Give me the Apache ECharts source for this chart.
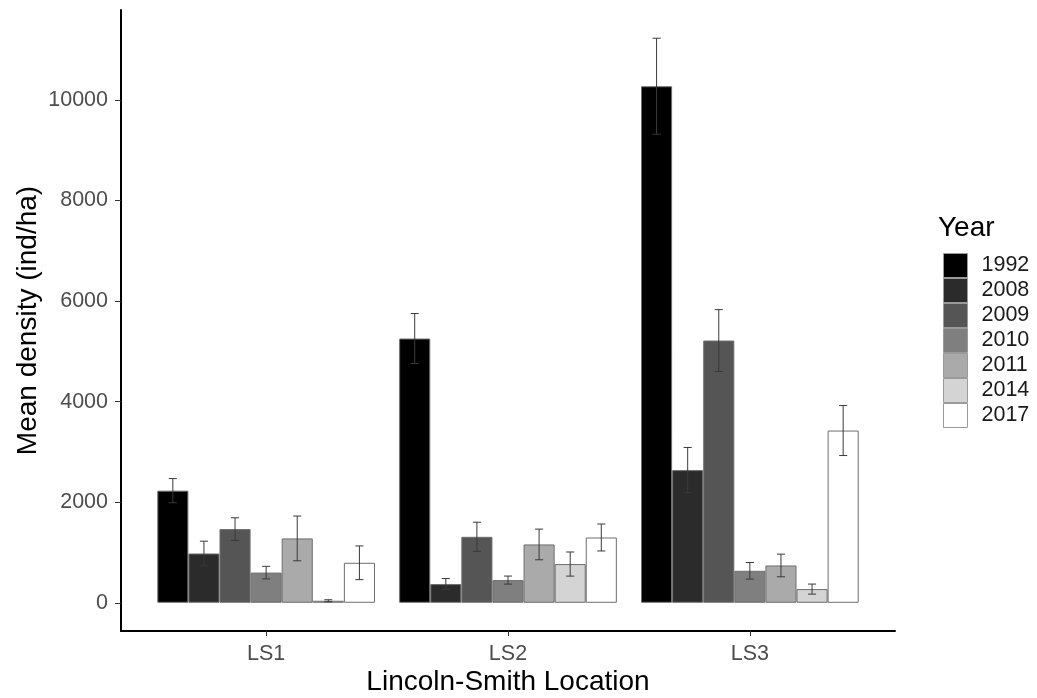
<!DOCTYPE html>
<html>
<head>
<meta charset="utf-8">
<script src="https://cdn.jsdelivr.net/npm/echarts@6/dist/echarts.min.js"></script>
<style>
  html, body { margin: 0; padding: 0; background: #ffffff; }
  #chart { width: 1037px; height: 698px; }
</style>
</head>
<body>
<div id="chart"></div>
<script>
// Survey locations and sampling years
const locations = ['LS1', 'LS2', 'LS3'];
const years = ['1992', '2008', '2009', '2010', '2011', '2014', '2017'];

// Mean density (ind/ha) per year, one value per location
const mean1992 = [2230, 5255, 10272];
const mean2008 = [980, 372, 2638];
const mean2009 = [1465, 1312, 5215];
const mean2010 = [600, 451, 636];
const mean2011 = [1280, 1160, 742];
const mean2014 = [40, 770, 272];
const mean2017 = [795, 1298, 3425];

// Standard errors per year, one value per location
const se1992 = [240, 497, 955];
const se2008 = [245, 110, 450];
const se2009 = [225, 290, 615];
const se2010 = [125, 80, 165];
const se2011 = [445, 305, 225];
const se2014 = [20, 240, 100];
const se2017 = [335, 268, 497];

// Y axis tick labels
const yTicks = [0, 2000, 4000, 6000, 8000, 10000];

const means = [mean1992, mean2008, mean2009, mean2010, mean2011, mean2014, mean2017];
const errors = [se1992, se2008, se2009, se2010, se2011, se2014, se2017];
const fills = ['#000000', '#2b2b2b', '#555555', '#7f7f7f', '#aaaaaa', '#d4d4d4', '#ffffff'];

// y range padded by 5% of the data span on both sides
let dataTop = 0;
means.forEach((m, i) => m.forEach((v, j) => { dataTop = Math.max(dataTop, v + errors[i][j]); }));
const pad = dataTop * 0.05;
const yMin = -pad, yMax = dataTop + pad;

const FONT = "'Liberation Sans', Arial, sans-serif";
const nYears = years.length;

const barSeries = years.map((y, i) => ({
  name: y,
  type: 'bar',
  xAxisIndex: 1,
  yAxisIndex: 1,
  data: means[i],
  barGap: '0%',
  barCategoryGap: '10%',
  itemStyle: { color: fills[i], borderColor: '#6e6e6e', borderWidth: 1 },
  emphasis: { disabled: true },
  animation: false
}));

const errData = [];
means.forEach((m, k) => m.forEach((v, c) => errData.push([c, v, errors[k][c], k])));

// Error bars: stem plus two caps, centred on each dodged bar
const errSeries = {
  type: 'custom',
  xAxisIndex: 1,
  yAxisIndex: 1,
  z: 5,
  animation: false,
  silent: true,
  data: errData,
  encode: { x: 0, y: 1 },
  renderItem: function (params, api) {
    const cat = api.value(0), v = api.value(1), e = api.value(2), k = api.value(3);
    const band = api.size([1, 0])[0];
    const bw = band * 0.9 / nYears;
    const x = api.coord([cat, v])[0] + (k - (nYears - 1) / 2) * bw;
    const yt = api.coord([cat, v + e])[1];
    const yb = api.coord([cat, v - e])[1];
    const hw = bw * 0.13;
    const style = { stroke: '#3a3a3a', lineWidth: 1 };
    return {
      type: 'group',
      children: [
        { type: 'line', shape: { x1: x, y1: yt, x2: x, y2: yb }, style: style },
        { type: 'line', shape: { x1: x - hw, y1: yt, x2: x + hw, y2: yt }, style: style },
        { type: 'line', shape: { x1: x - hw, y1: yb, x2: x + hw, y2: yb }, style: style }
      ]
    };
  }
};

const chart = echarts.init(document.getElementById('chart'), null, { renderer: 'canvas' });
chart.setOption({
  backgroundColor: '#ffffff',
  animation: false,
  textStyle: { fontFamily: FONT },
  title: {
    text: 'Year',
    left: 933,
    top: 209,
    textStyle: { fontFamily: FONT, fontSize: 28, fontWeight: 'normal', color: '#000000' }
  },
  legend: {
    data: years,
    orient: 'vertical',
    left: 938,
    top: 248,
    itemWidth: 24,
    itemHeight: 24,
    itemGap: 0,
    icon: 'rect',
    selectedMode: false,
    itemStyle: { borderColor: '#9a9a9a', borderWidth: 1 },
    textStyle: { fontFamily: FONT, fontSize: 21.5, color: '#1a1a1a', padding: [0, 0, 0, 9] }
  },
  grid: [
    { left: 121, right: 142, top: 10, height: 621, containLabel: false, outerBoundsMode: 'none' },
    { left: 145.2, right: 166.2, top: 10, height: 621, containLabel: false, outerBoundsMode: 'none' }
  ],
  xAxis: [
    {
      type: 'value', gridIndex: 0, min: 0, max: 1,
      axisLine: { show: true, onZero: false, lineStyle: { color: '#000000', width: 2 } },
      axisTick: { show: false }, axisLabel: { show: false }, splitLine: { show: false }
    },
    {
      type: 'category', gridIndex: 1, data: locations,
      axisLine: { show: false, onZero: false },
      axisTick: { show: true, alignWithLabel: true, length: 5, lineStyle: { color: '#333333', width: 1 } },
      axisLabel: { fontFamily: FONT, fontSize: 21.5, color: '#4d4d4d', margin: 12 },
      name: 'Lincoln-Smith Location',
      nameLocation: 'middle',
      nameGap: 37,
      nameMoveOverlap: false,
      nameTextStyle: { fontFamily: FONT, fontSize: 28, color: '#000000' },
      splitLine: { show: false }
    }
  ],
  yAxis: [
    {
      type: 'value', gridIndex: 0, min: yMin, max: yMax,
      axisLine: { show: true, onZero: false, lineStyle: { color: '#000000', width: 2 } },
      axisTick: { show: true, length: 6, customValues: yTicks, lineStyle: { color: '#333333', width: 1 } },
      axisLabel: {
        customValues: yTicks, fontFamily: FONT, fontSize: 21.5, color: '#4d4d4d', margin: 13,
        formatter: v => String(v)
      },
      splitLine: { show: false },
      name: 'Mean density (ind/ha)',
      nameLocation: 'middle',
      nameGap: 79,
      nameMoveOverlap: false,
      nameTextStyle: { fontFamily: FONT, fontSize: 28, color: '#000000' }
    },
    {
      type: 'value', gridIndex: 1, min: yMin, max: yMax, show: false,
      splitLine: { show: false }
    }
  ],
  series: barSeries.concat([errSeries])
});
</script>
</body>
</html>
